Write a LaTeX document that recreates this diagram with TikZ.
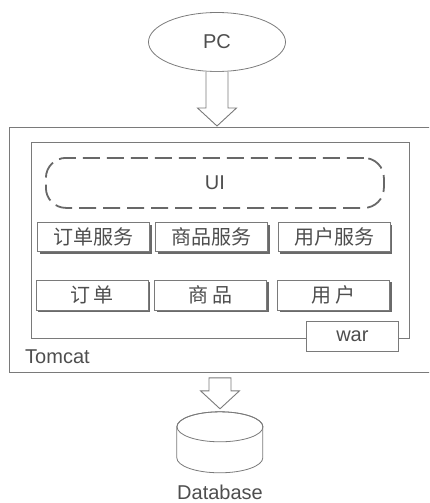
\documentclass[tikz,border=0pt]{standalone}
\usepackage{fontspec}
\setmainfont{Liberation Sans}
\newfontfamily\cjk{Noto Sans CJK SC}
\usetikzlibrary{shapes.geometric,shadows,calc}

\definecolor{inkline}{HTML}{7A7A7A}
\definecolor{inktext}{HTML}{4E4E4E}
\definecolor{shade}{HTML}{6A6A6A}

\tikzset{
  thinline/.style={draw=inkline, line width=0.8pt},
  blockarrow/.style={draw=inkline, line width=0.9pt, fill=white, line join=miter},
  label/.style={text=inktext, font=\fontsize{20}{22}\selectfont, inner sep=0pt},
  raisedbox/.style={thinline, fill=white, minimum width=112pt, minimum height=29pt,
    inner sep=0pt, text=inktext, font=\cjk\fontsize{20}{22}\selectfont,
    drop shadow={shadow xshift=2.2pt, shadow yshift=-2.2pt, fill=shade, opacity=1}},
  uibox/.style={draw=inkline!85!black, line width=1.8pt, dash pattern=on 17pt off 7pt,
    rounded corners=20pt},
}

% hollow down-pointing block arrow from #1 (top) to #2 (tip)
\newcommand\downarrowblock[3][]{%
  \draw[blockarrow] let \p1=(#2), \p2=(#3) in
    (\x1-11pt,\y1) -- (\x1-11pt,\y2+18pt) -- (\x1-19.5pt,\y2+18pt) -- (\x1,\y2)
    -- (\x1+19.5pt,\y2+18pt) -- (\x1+11pt,\y2+18pt) -- (\x1+11pt,\y1) #1;}

\begin{document}
\begin{tikzpicture}[x=1pt,y=1pt]
\useasboundingbox (0,0) rectangle (429,-503);
\clip (0,0) rectangle (429,-503);

% client
\node[ellipse, thinline, minimum width=137pt, minimum height=59pt, label] (pc) at (217,-42) {PC};

% Tomcat container and the deployed war
\node[thinline, anchor=north west, minimum width=430pt, minimum height=245pt, inner sep=0pt] (tomcat) at (9,-127) {};
\node[label, anchor=base west] (tomcatlbl) at (25,-363) {Tomcat};
\node[thinline, anchor=north west, minimum width=378pt, minimum height=196pt, inner sep=0pt] (app) at (31,-142) {};
\node[thinline, fill=white, anchor=north west, minimum width=92pt, minimum height=30pt, inner sep=0pt, label] (war) at (306,-321) {war};

% presentation layer
\node[uibox, anchor=north west, minimum width=338pt, minimum height=50pt, inner sep=0pt, label] (ui) at (45,-157) {};
\node[label] (uilbl) at (ui.center) {UI};

% service layer
\node[raisedbox] (svcorder) at (93.5,-237) {订单服务};
\node[raisedbox] (svcgoods) at (211.5,-237) {商品服务};
\node[raisedbox] (svcuser) at (334,-237) {用户服务};

% entity layer
\node[raisedbox, minimum height=30pt] (order) at (92,-295) {订\,单};
\node[raisedbox, minimum height=30pt] (goods) at (210.5,-295) {商\,品};
\node[raisedbox, minimum height=30pt] (user) at (333.5,-295) {用\,户};

% database cylinder
\node[minimum width=86pt, minimum height=61pt, inner sep=0pt] (db) at (220,-442.5) {};
\draw[thinline, fill=white] (db.north west) ++(0,-15pt) coordinate (dbtl)
  -- ++(0,-31pt) arc[start angle=180, end angle=360, x radius=43pt, y radius=15pt]
  -- ++(0,31pt) arc[start angle=0, end angle=180, x radius=43pt, y radius=15pt] -- cycle;
\draw[thinline] ($(db.north)+(0,-15pt)$) ellipse[x radius=43pt, y radius=15pt];
\node[label, anchor=base] (dblbl) at (220,-499) {Database};

% request flow
\coordinate (pcin) at ($(pc.south |- tomcat.north)+(0,1pt)$);
\downarrowblock{pc.south}{pcin}
\coordinate (dbout) at ($(db.north |- tomcat.south)+(0,-5pt)$);
\coordinate (dbin) at ($(db.north)+(0,3pt)$);
\downarrowblock[-- cycle]{dbout}{dbin}
\end{tikzpicture}
\end{document}
